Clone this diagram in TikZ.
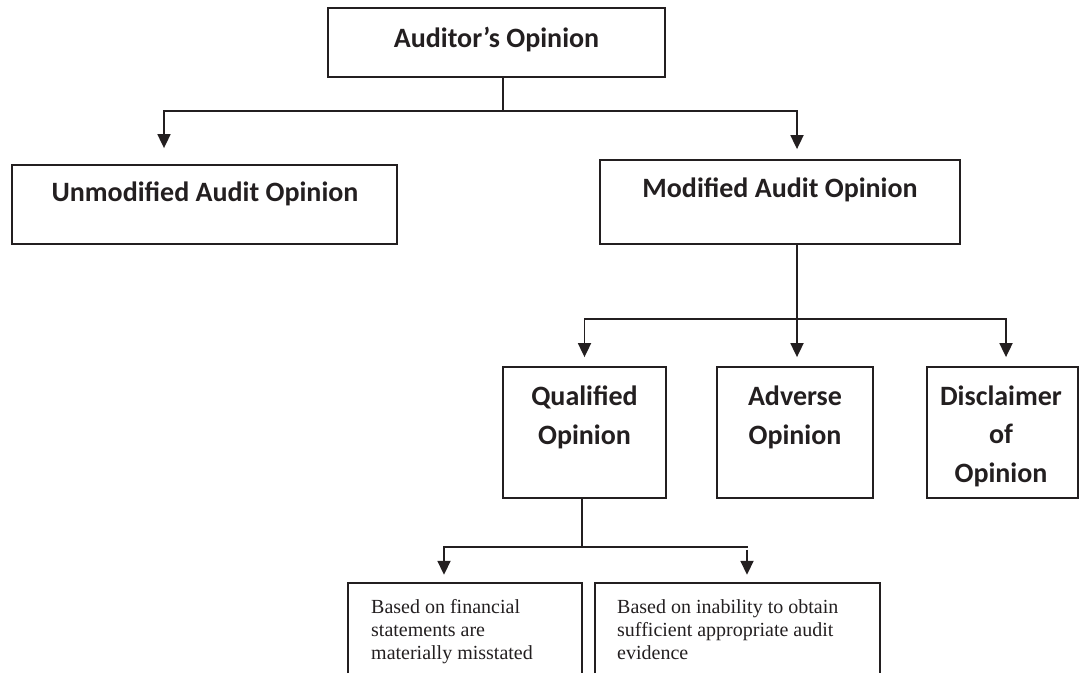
\documentclass[tikz,border=0pt]{standalone}
\usepackage{fontspec}
\setmainfont{Carlito}
\newfontfamily\boxserif{Liberation Serif}
\usetikzlibrary{arrows.meta,fit,calc}
\definecolor{linec}{RGB}{35,31,32}
\begin{document}
\begin{tikzpicture}[x=1pt,y=-1pt,
  box/.style={draw=linec, line width=1.8pt, inner sep=0pt},
  openbox/.style={inner sep=0pt},
  btxt/.style={text=linec, inner sep=0pt, font=\fontsize{28}{38.5}\selectfont\bfseries, align=center},
  stxt/.style={text=linec, inner sep=0pt, font=\boxserif\fontsize{20}{23}\selectfont, align=left},
  ln/.style={draw=linec, line width=1.8pt},
  arr/.style={draw=linec, line width=1.8pt, -{Triangle[length=14pt,width=13pt]}}]
\useasboundingbox (0,0) rectangle (1082,673);

% boxes
\node[box, fit={(328,8) (665,77)}] (top) {};
\node[box, fit={(12,165) (397,244)}] (unmod) {};
\node[box, fit={(600,160) (960,244)}] (mod) {};
\node[box, fit={(503,367) (666,498)}] (qual) {};
\node[box, fit={(717,367) (873,498)}] (adv) {};
\node[box, fit={(927,367) (1078,498)}] (disc) {};
\node[openbox, fit={(348,583) (582,673)}] (bl) {};
\node[openbox, fit={(595,583) (880,673)}] (br) {};
\draw[ln] (bl.south west) -- (bl.north west) -- (bl.north east) -- (bl.south east);
\draw[ln] (br.south west) -- (br.north west) -- (br.north east) -- (br.south east);

% texts (multi-line nodes are anchored at the baseline of their last line)
\node[btxt, anchor=base] (topT) at (496.5,47) {Auditor’s Opinion};
\node[btxt, anchor=base] (unmodT) at (205,201) {Unmodified Audit Opinion};
\node[btxt, anchor=base] (modT) at (780,197) {Modified Audit Opinion};
\node[btxt, anchor=base] (qualT) at (584.5,444) {Qualified\\Opinion};
\node[btxt, anchor=base] (advT) at (795,444) {Adverse\\Opinion};
\node[btxt, anchor=base] (discT) at (1001,482) {Disclaimer\\of\\Opinion};
\node[stxt, anchor=base west] (blT) at (371,659) {Based on financial\\statements are\\materially misstated};
\node[stxt, anchor=base west] (brT) at (617,659) {Based on inability to obtain\\sufficient appropriate audit\\evidence};

% connectors
\coordinate (j1) at (503,111);
\coordinate (j2) at (797,319);
\coordinate (j3) at (582,547);
\draw[ln] (top.south -| j1) -- (j1);
\draw[arr] (j1) -| ([shift={(-40.5,-16)}]unmod.north);
\draw[arr] (j1) -| ([shift={(17,-10)}]mod.north);
\draw[arr] (mod.south -| j2) -- ([yshift=9pt]adv.north -| j2);
\draw[arr] (j2) -| ([yshift=9pt]qual.north);
\draw[arr] (j2) -| ([shift={(3.5,-9)}]disc.north);
\draw[ln] (qual.south -| j3) -- (j3);
\draw[arr] (j3) -| ([shift={(-21,-8)}]bl.north);
\draw[ln] (j3) -- ([xshift=10.5pt]j3 -| br.north);
\draw[arr] ([shift={(9.5,-33)}]br.north) -- ([shift={(9.5,-8)}]br.north);
\end{tikzpicture}
\end{document}
